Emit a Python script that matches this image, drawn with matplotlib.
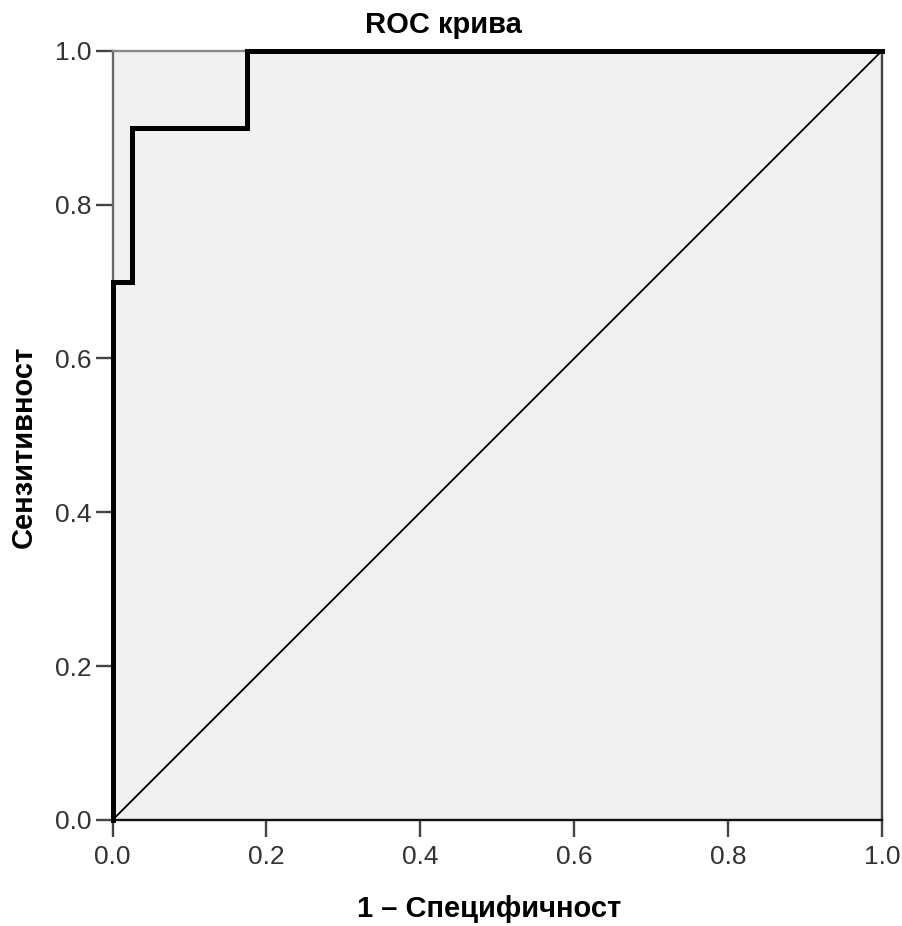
import matplotlib
matplotlib.use('Agg')
import matplotlib.pyplot as plt

# ROC точки (1 - специфичност, сензитивност)
fpr = [0.0, 0.0, 0.025, 0.025, 0.175, 0.175, 1.0]
tpr = [0.0, 0.7, 0.7, 0.9, 0.9, 1.0, 1.0]
ref_line = [0.0, 1.0]
ticks = [0.0, 0.2, 0.4, 0.6, 0.8, 1.0]
tick_labels = ['0.0', '0.2', '0.4', '0.6', '0.8', '1.0']

plt.rcParams['font.family'] = ['Liberation Sans', 'DejaVu Sans']

fig = plt.figure(figsize=(9.03, 9.26), dpi=100)
ax = fig.add_axes([0.1246, 0.1145, 0.8521, 0.8307])
ax.set_facecolor('#f0f0f0')

ax.plot(ref_line, ref_line, color='black', lw=1.3, zorder=2)
ax.plot(fpr, tpr, color='black', lw=3.6, zorder=3, clip_on=False, solid_joinstyle='miter')

ax.set_xlim(0, 1)
ax.set_ylim(0, 1)
ax.set_xticks(ticks)
ax.set_yticks(ticks)
ax.set_xticklabels(tick_labels, fontsize=19, color='#333333')
ax.set_yticklabels(tick_labels, fontsize=19, color='#333333')
ax.tick_params(axis='both', direction='out', length=12, width=1.7, color='#444444')
ax.tick_params(axis='x', pad=6)
ax.tick_params(axis='y', pad=3)

ax.spines['top'].set_color('#8a8a8a')
ax.spines['left'].set_color('#666666')
ax.spines['right'].set_color('#444444')
ax.spines['bottom'].set_color('#111111')
for s in ax.spines.values():
    s.set_linewidth(1.7)

fig.text(0.4911, 0.9644, 'ROC крива', ha='center', va='baseline',
         fontweight='bold', fontsize=21)
fig.text(0.5415, 0.0095, '1 – Специфичност', ha='center', va='baseline',
         fontweight='bold', fontsize=21)
fig.text(0.0354, 0.5173, 'Сензитивност', ha='center', va='baseline', rotation=90,
         rotation_mode='anchor', fontweight='bold', fontsize=21)

fig.savefig('out.png', dpi=100)
